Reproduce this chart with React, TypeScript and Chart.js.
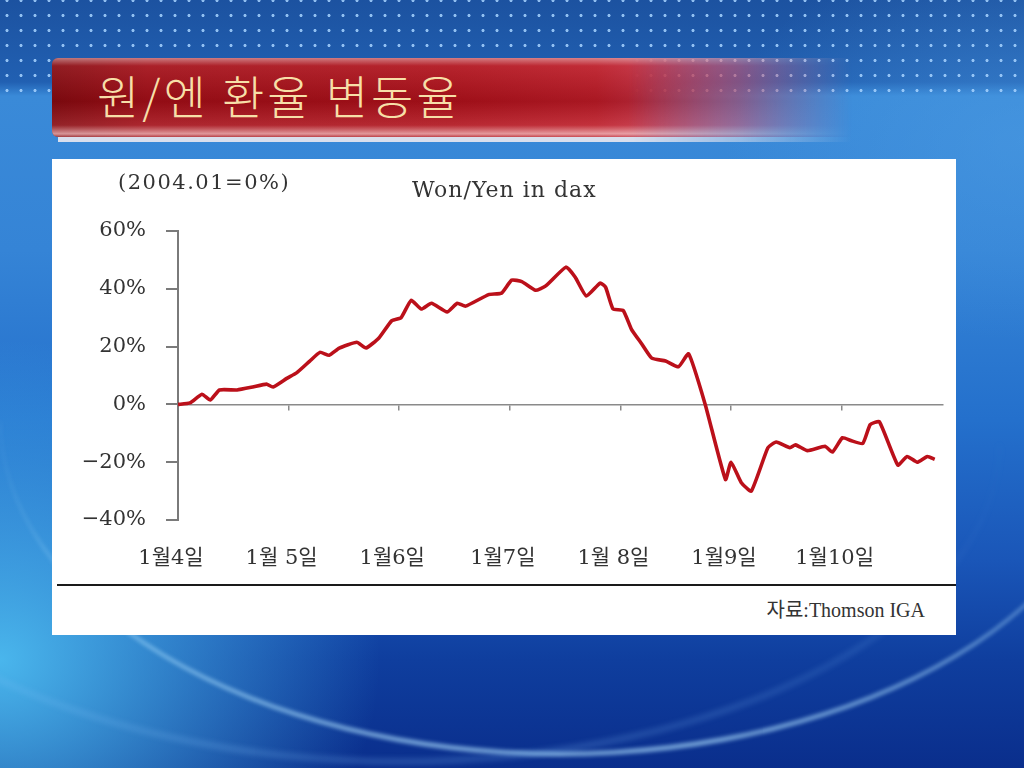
import React, { useEffect, useRef } from "react";
import { Chart, registerables } from "chart.js";

Chart.register(...registerables);

// ---- data ----
// x position of each sampled point, in months since 2004.01
const monthIdx = [
  0, 1.3, 2.6, 3.5, 4.5, 6.4, 8.1, 9.6, 10.3, 11.8,
  12.9, 14.3, 15.4, 16.4, 17.5, 19.4, 20.4, 21.8, 23.2, 24.2,
  25.3, 26.4, 27.5, 29.2, 30.3, 31.2, 33.7, 35.1, 36.2, 37.3,
  38.8, 39.9, 42.1, 43.1, 44.3, 45.8, 46.4, 47.2, 48.3, 49.2,
  50.3, 51.4, 52.9, 54.3, 55.4, 57.2, 59.4, 60.0, 61.1, 62.2,
  64.0, 64.9, 66.4, 67.0, 68.3, 70.2, 71.0, 72.1, 73.0, 74.3,
  75.1, 76.1, 78.1, 79.1, 80.2, 81.3, 82.1,
];
// Won/Yen change (%) vs 2004.01
const changePct = [
  0, 0.5, 3.5, 1.5, 5, 5, 6, 7, 6, 9,
  11, 15, 18, 17, 19.5, 21.5, 19.5, 23, 29, 30,
  36, 33, 35, 32, 35, 34, 38, 38.5, 43, 42.5,
  39.5, 41, 47.5, 44, 37.5, 42, 40.5, 33, 32.5, 26,
  21, 16, 15, 13, 17.5, 0, -26, -20, -27, -30,
  -15, -13, -15, -14, -16, -14.5, -16.5, -11.5, -12.5, -13.5,
  -7, -6, -21, -18, -20, -18, -19,
];
const xTickMonths = [0, 12, 24, 36, 48, 60, 72];
const xTickLabels = ["1월4일", "1월 5일", "1월6일", "1월7일", "1월 8일", "1월9일", "1월10일"];
const zeroTickMonths = [12, 24, 36, 48, 60, 72];
const yTicks = [-40, -20, 0, 20, 40, 60];

const SERIF = "'DejaVu Serif', 'Noto Sans CJK KR', serif";

function ChartCanvas() {
  const ref = useRef<HTMLCanvasElement | null>(null);
  useEffect(() => {
    if (!ref.current) return;
    const chart = new Chart(ref.current, {
      type: "line",
      data: {
        datasets: [
          {
            data: monthIdx.map((m, i) => ({ x: m, y: changePct[i] })),
            borderColor: "#bb101a",
            borderWidth: 3.6,
            pointRadius: 0,
            tension: 0.15,
            xAxisID: "x",
            yAxisID: "y",
          },
        ],
      },
      options: {
        animation: false,
        responsive: false,
        layout: { padding: { left: 0, top: 71, right: 13, bottom: 0 } },
        plugins: { legend: { display: false }, tooltip: { enabled: false } },
        scales: {
          x: {
            type: "linear",
            position: "bottom",
            min: 0,
            max: 83,
            grid: { display: false, drawTicks: false },
            border: { display: false },
            afterBuildTicks: (s: any) => {
              s.ticks = xTickMonths.map((v) => ({ value: v }));
            },
            afterFit: (s: any) => {
              s.height = 65;
            },
            ticks: {
              autoSkip: false,
              maxRotation: 0,
              padding: 26,
              labelOffset: -7,
              color: "#333",
              font: { family: SERIF, size: 21 },
              callback: (v: any) => {
                const i = xTickMonths.indexOf(Number(v));
                return i >= 0 ? xTickLabels[i] : "";
              },
            },
          },
          xZero: {
            type: "linear",
            axis: "x",
            position: { y: 0 },
            min: 0,
            max: 83,
            grid: { drawOnChartArea: false, drawTicks: true, tickLength: 5, color: "#8a8a8a", lineWidth: 1.5 },
            border: { color: "#8a8a8a", width: 1.5 },
            ticks: { display: false },
            afterBuildTicks: (s: any) => {
              s.ticks = zeroTickMonths.map((v) => ({ value: v }));
            },
          } as any,
          y: {
            type: "linear",
            min: -40,
            max: 60,
            afterBuildTicks: (s: any) => {
              s.ticks = yTicks.map((v) => ({ value: v }));
            },
            afterFit: (s: any) => {
              s.width = 126;
            },
            grid: { drawOnChartArea: false, tickLength: 12, color: "#7a7a7a", lineWidth: 2 },
            border: { color: "#7a7a7a", width: 2 },
            ticks: {
              padding: 20,
              color: "#333",
              font: { family: SERIF, size: 21 },
              callback: (v: any) => (Number(v) < 0 ? "\u2212" + Math.abs(Number(v)) : String(v)) + "%",
            },
          },
        },
      },
    });
    return () => chart.destroy();
  }, []);
  return <canvas ref={ref} width={904} height={425} style={{ width: 904, height: 425, display: "block" }} />;
}

export default function App() {
  const bannerMask = "linear-gradient(90deg, #000 0%, #000 72%, rgba(0,0,0,0.6) 86%, rgba(0,0,0,0) 100%)";
  return (
    <div
      style={{
        position: "fixed",
        left: 0,
        top: 0,
        width: 1024,
        height: 768,
        overflow: "hidden",
        background:
          "radial-gradient(ellipse 380px 320px at 0px 660px, rgba(80,195,245,0.9), rgba(80,190,245,0) 100%)," +
          "radial-gradient(ellipse 300px 200px at 1024px 140px, rgba(80,160,230,0.45), rgba(90,170,235,0) 100%)," +
          "linear-gradient(180deg, #1c52a0 0px, #2160b2 82px, #3a8ad8 96px, #3584d6 250px, #2470cc 420px, #1a56b8 560px, #0f3e9e 660px, #0a2e8c 768px)",
        fontFamily: SERIF,
      }}
    >
      {/* dotted top band */}
      <div
        style={{
          position: "absolute",
          left: 0,
          top: 0,
          width: 1024,
          height: 98,
          backgroundImage: "radial-gradient(circle, rgba(165,210,255,0.85) 1.2px, rgba(160,205,255,0) 1.9px)",
          backgroundSize: "14px 15px",
          backgroundPosition: "0px 8px",
        }}
      />
      {/* bottom arcs */}
      <div
        style={{
          position: "absolute",
          left: 0,
          top: 80,
          width: 1120,
          height: 672,
          borderRadius: "50%",
          borderBottom: "4px solid rgba(175,225,255,0.8)",
          filter: "blur(2px)",
        }}
      />
      <div
        style={{
          position: "absolute",
          left: -200,
          top: 120,
          width: 1200,
          height: 640,
          borderRadius: "50%",
          borderBottom: "3px solid rgba(140,200,255,0.45)",
          filter: "blur(3px)",
        }}
      />
      {/* title banner */}
      <div style={{ position: "absolute", left: 52, top: 58, width: 800, height: 85, WebkitMaskImage: bannerMask, maskImage: bannerMask } as any}>
        <div
          style={{
            position: "absolute",
            left: 0,
            top: 0,
            width: 800,
            height: 79,
            borderRadius: "6px 0 0 6px",
            background:
              "linear-gradient(90deg, #870a10 0%, #a30e17 12%, #b0111b 50%, #bc1a26 68%, #c8425e 84%, #b8608c 100%)",
          }}
        />
        <div
          style={{
            position: "absolute",
            left: 0,
            top: 0,
            width: 800,
            height: 79,
            borderRadius: "6px 0 0 6px",
            background:
              "linear-gradient(180deg, rgba(255,255,255,0.45) 0%, rgba(255,255,255,0.08) 10%, rgba(0,0,0,0.1) 55%, rgba(255,255,255,0.1) 85%, rgba(255,225,225,0.65) 96%, rgba(255,255,255,0.2) 100%)",
          }}
        />
        <div
          style={{
            position: "absolute",
            left: 6,
            top: 79,
            width: 794,
            height: 5,
            background: "rgba(225,228,238,0.95)",
          }}
        />
      </div>
      <div
        style={{
          position: "absolute",
          left: 97,
          top: 67,
          height: 54,
          lineHeight: "54px",
          fontFamily: "'Noto Sans CJK KR', sans-serif",
          fontWeight: 300,
          fontSize: 46,
          letterSpacing: 3,
          color: "#f7dfa8",
          whiteSpace: "nowrap",
        }}
      >
        원/엔 환율 변동율
      </div>
      {/* white panel */}
      <div style={{ position: "absolute", left: 52, top: 159, width: 904, height: 476, background: "#ffffff" }} />
      <div style={{ position: "absolute", left: 52, top: 160 }}>
        <ChartCanvas />
      </div>
      <div
        style={{
          position: "absolute",
          left: 118,
          top: 168,
          fontSize: 21,
          lineHeight: "28px",
          letterSpacing: 1.5,
          color: "#333",
          whiteSpace: "nowrap",
        }}
      >
        (2004.01=0%)
      </div>
      <div
        style={{
          position: "absolute",
          left: 412,
          top: 176,
          fontSize: 22,
          lineHeight: "28px",
          letterSpacing: 1,
          color: "#333",
          whiteSpace: "nowrap",
        }}
      >
        Won/Yen in dax
      </div>
      <div style={{ position: "absolute", left: 57, top: 584, width: 899, height: 2, background: "#1a1a1a" }} />
      <div
        style={{
          position: "absolute",
          right: 1024 - 925,
          top: 597,
          fontFamily: "'Liberation Serif', 'Noto Sans CJK KR', serif",
          fontSize: 20,
          lineHeight: "26px",
          color: "#333",
          whiteSpace: "nowrap",
        }}
      >
        자료:Thomson IGA
      </div>
    </div>
  );
}
